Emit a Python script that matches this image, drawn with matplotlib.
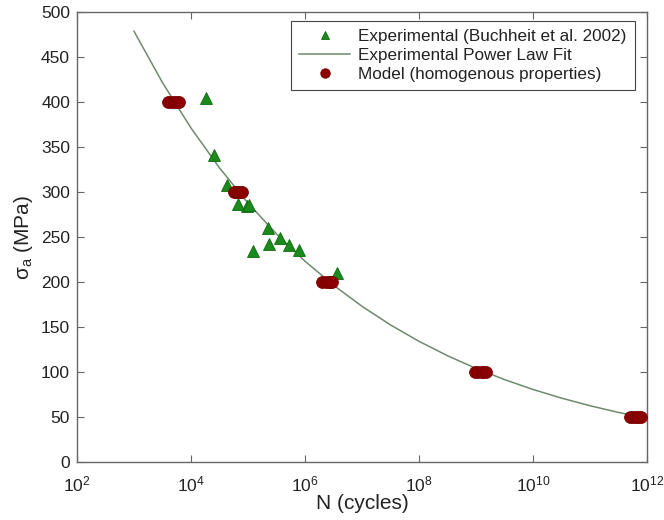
import matplotlib
matplotlib.use("Agg")
import matplotlib.pyplot as plt
from matplotlib.ticker import FixedLocator, NullLocator

plt.rcParams['font.family'] = ['Liberation Sans', 'DejaVu Sans']
plt.rcParams['mathtext.fontset'] = 'custom'
plt.rcParams['mathtext.rm'] = 'Liberation Sans'
plt.rcParams['mathtext.it'] = 'Liberation Sans'
plt.rcParams['mathtext.default'] = 'regular'

# Experimental data (Buchheit et al. 2002)
exp_N = [1.83e4, 2.56e4, 4.34e4, 6.76e4, 9.5e4, 1.05e5, 1.21e5, 2.22e5,
         2.37e5, 3.64e5, 5.31e5, 7.85e5, 3.6e6]
exp_S = [404, 341, 308, 287, 284, 286, 234, 260, 242, 249, 241, 235, 210]

# Experimental power law fit
fit_N = [1e3, 10**3.5, 1e4, 10**4.5, 1e5, 10**5.5, 1e6, 10**6.5, 1e7, 10**7.5,
         1e8, 10**8.5, 1e9, 10**9.5, 1e10, 10**10.5, 1e11, 10**11.5, 1e12]
fit_S = [478.6, 421.5, 371.1, 326.8, 287.7, 253.4, 223.1, 196.5, 173.0, 152.3,
         134.1, 118.1, 104.0, 91.6, 80.6, 71.0, 62.5, 55.1, 48.5]

# Model (homogenous properties)
mod_N = [4.0e3, 4.5e3, 5.0e3, 5.6e3, 6.2e3,
         5.6e4, 6.2e4, 6.8e4, 7.2e4, 7.8e4,
         2.0e6, 2.3e6, 2.6e6, 2.8e6, 3.0e6,
         9.8e8, 1.1e9, 1.25e9, 1.35e9, 1.5e9,
         5.0e11, 5.6e11, 6.3e11, 7.0e11, 7.8e11]
mod_S = [400] * 5 + [300] * 5 + [200] * 5 + [100] * 5 + [50] * 5

x_ticks = [1e2, 1e4, 1e6, 1e8, 1e10, 1e12]
x_ticklabels = [r'$10^{2}$', r'$10^{4}$', r'$10^{6}$', r'$10^{8}$', r'$10^{10}$', r'$10^{12}$']
y_ticks = [0, 50, 100, 150, 200, 250, 300, 350, 400, 450, 500]

fig = plt.figure(figsize=(6.64, 5.2), dpi=100)
ax = fig.add_axes([77/664, 58/520, 570/664, 450/520])

ax.plot(exp_N, exp_S, linestyle='none', marker='^', markersize=8,
        markerfacecolor='#1a8a1a', markeredgecolor='#0f6a0f', markeredgewidth=0.6,
        label='Experimental (Buchheit et al. 2002)', zorder=3)
ax.plot(fit_N, fit_S, color='#6f8a6f', linewidth=1.1,
        label='Experimental Power Law Fit', zorder=2)
ax.plot(mod_N, mod_S, linestyle='none', marker='o', markersize=8.5,
        markerfacecolor='#8b0000', markeredgecolor='#7a0000', markeredgewidth=0.6,
        label='Model (homogenous properties)', zorder=4)

ax.set_xscale('log')
ax.set_xlim(1e2, 1e12)
ax.set_ylim(0, 500)
ax.xaxis.set_major_locator(FixedLocator(x_ticks))
ax.xaxis.set_minor_locator(NullLocator())
ax.set_xticklabels(x_ticklabels)
ax.set_yticks(y_ticks)

for sp in ax.spines.values():
    sp.set_color('#666666')
    sp.set_linewidth(1.0)
ax.tick_params(direction='in', top=True, right=True, length=5, width=0.8,
               color='#666666', labelsize=12.5, labelcolor='#222222')
ax.tick_params(axis='x', pad=9)
ax.tick_params(axis='y', pad=5)

ax.set_xlabel('N (cycles)', fontsize=15, color='#222222', labelpad=0)
ax.set_ylabel(r'$\sigma_a$ (MPa)', fontsize=15, color='#222222', labelpad=4)

leg = ax.legend(loc='upper right', bbox_to_anchor=(0.979, 0.981),
                fontsize=12.3, frameon=True, fancybox=False,
                edgecolor='#444444', framealpha=1, borderpad=0.5,
                labelspacing=0.22, handlelength=3.0, handletextpad=0.45,
                borderaxespad=0.0, markerscale=0.8)
leg.get_frame().set_linewidth(0.8)
for t in leg.get_texts():
    t.set_color('#222222')

fig.savefig('out.png', dpi=100)
